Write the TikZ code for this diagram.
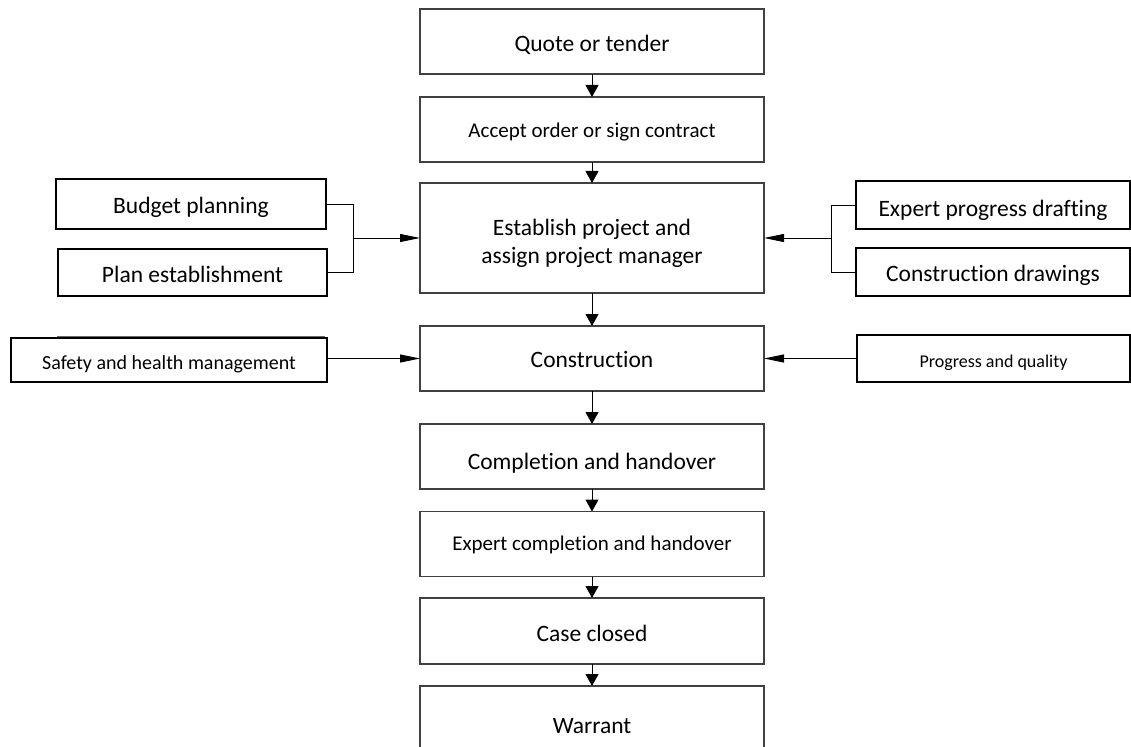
\documentclass[tikz,border=0pt]{standalone}
\usepackage{fontspec}
\setmainfont{Carlito}[Ligatures={NoCommon}]
\usetikzlibrary{arrows.meta}
\begin{document}
\begin{tikzpicture}[x=1pt,y=-1pt,
  mainbox/.style={draw=black!75, line width=1.3pt, rectangle, inner sep=0pt, outer sep=0pt,
    minimum width=344pt, align=center, font=\fontsize{23.5}{28}\selectfont},
  sidebox/.style={draw=black, line width=2pt, rectangle, inner sep=0pt, outer sep=0pt,
    align=center, font=\fontsize{23.5}{28}\selectfont},
  tb/.style={text depth=0pt, text height=#1},
  varr/.style={line width=1pt, -{Triangle[length=12pt,width=13pt]}},
  harr/.style={line width=1pt, -{Triangle[length=20pt,width=8pt]}},
  link/.style={line width=1pt}
]
\clip (0,0) rectangle (1131,746);
\fill[white] (0,0) rectangle (1131,746);

% main column
\node[mainbox, minimum height=65pt, tb=21pt] (q) at (592,41.5) {Quote or tender};
\node[mainbox, minimum height=65pt, font=\fontsize{21}{25}\selectfont, tb=16pt] (a) at (592,129.5) {Accept order or sign contract};
\node[mainbox, minimum height=110pt, tb=50pt] (e) at (592,238) {Establish project and\\assign project manager};
\node[mainbox, minimum height=65pt, tb=18.5pt] (c) at (592,358.5) {Construction};
\node[mainbox, minimum height=65pt, tb=25pt] (ch) at (592,456.5) {Completion and handover};
\node[mainbox, minimum height=65pt, font=\fontsize{21}{25}\selectfont, tb=12pt] (ec) at (592,544) {Expert completion and handover};
\node[mainbox, minimum height=66pt, tb=21pt] (cc) at (592,631) {Case closed};
\node[mainbox, minimum height=77pt, tb=17pt] (w) at (592,724.5) {Warrant};

\draw[varr] (q) -- (a);
\draw[varr] (a) -- (e);
\draw[varr] (e) -- (c);
\draw[varr] (c) -- (ch);
\draw[varr] (ch) -- (ec);
\draw[varr] (ec) -- (cc);
\draw[varr] (cc) -- (w);

% left side
\node[sidebox, minimum width=270pt, minimum height=50pt, tb=18pt] (bp) at (191,204) {Budget planning};
\node[sidebox, minimum width=269pt, minimum height=47pt, tb=20pt] (pe) at (192.5,272) {Plan establishment};
\draw[black!60, line width=0.8pt] (57,336) -- (325,336);
\node[sidebox, minimum width=316pt, minimum height=44pt, font=\fontsize{20}{24}\selectfont, tb=19pt] (sh) at (169,360) {Safety and health management};

\coordinate (lj) at (353,238);
\draw[link] (bp.east) -- (bp.east -| lj) |- (pe.east);
\draw[harr] (lj) -- (e.west);
\draw[harr] (sh.east |- c.west) -- (c.west);

% right side
\node[sidebox, minimum width=274pt, minimum height=48pt, tb=22pt] (epd) at (993,205) {Expert progress drafting};
\node[sidebox, minimum width=274pt, minimum height=48pt, tb=19.5pt] (cd) at (993,272) {Construction drawings};
\node[sidebox, minimum width=273pt, minimum height=47pt, font=\fontsize{18}{22}\selectfont, tb=17pt] (pq) at (993.5,358.5) {Progress and quality};

\coordinate (rj) at (831,238);
\draw[link] (epd.west) -- (epd.west -| rj) |- (cd.west);
\draw[harr] (rj) -- (e.east);
\draw[harr] (pq.west) -- (c.east);
\end{tikzpicture}
\end{document}
